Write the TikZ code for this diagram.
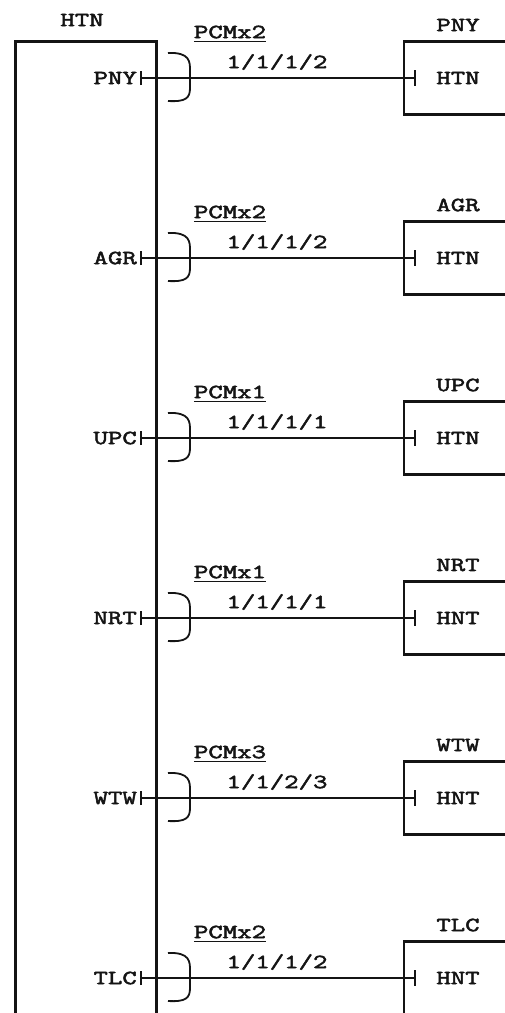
\documentclass[tikz,border=0pt]{standalone}
\usepackage{fontspec}
\newfontfamily\telexfont[FakeStretch=1.4,FakeBold=2.5]{Latin Modern Mono}
\usepackage{tikz}
\usetikzlibrary{arrows.meta}
\definecolor{InkBlack}{RGB}{20,20,20}
\tikzset{
  hbox/.style={draw=InkBlack,line width=2.6pt,anchor=north west,minimum width=141pt,minimum height=1100pt,inner sep=0pt},
  rbox/.style={draw=InkBlack,line width=2.4pt,anchor=west,minimum width=150pt,minimum height=73pt,inner sep=0pt},
  lbl/.style={font=\telexfont\fontsize{20}{20}\selectfont,text=InkBlack,inner sep=0pt},
  link/.style={{Bar[width=14pt]}-{Bar[width=16pt]},InkBlack,line width=1.6pt},
  hook/.style={InkBlack,line width=1.8pt},
  uline/.style={InkBlack,line width=1.3pt},
}
% one office-to-office link: y, office, PCM count, channel code, inner text
\newcommand{\pcmrow}[5]{%
  \begin{scope}[shift={(0,#1)}]
    \node[lbl,anchor=east] (l#2) at (137,0) {#2};
    \coordinate (a#2) at (140,0);
    \coordinate (b#2) at (416,0);
    \node[rbox] (r#2) at (403,0) {};
    \node[lbl] (t#2) at (458,-53) {#2};
    \node[lbl] (i#2) at (458,0) {#5};
    \node[lbl] (p#2) at (230,-46) {PCMx#3};
    \node[lbl] (n#2) at (277,-16) {#4};
    \draw[uline] ([yshift=-3pt]p#2.south west) -- ([yshift=-3pt]p#2.south east);
    \draw[link] (a#2) -- (b#2);
    \draw[hook] (168,-25) .. controls (190,-26) and (190,-16) .. (190,-8) -- (190,10) .. controls (190,20) and (186,24) .. (168,23);
  \end{scope}}

\begin{document}
\begin{tikzpicture}[x=1pt,y=-1pt]
  \useasboundingbox[fill=white] (0,0) rectangle (505,1013);
  \node[hbox] (htn) at (14,40) {};
  \node[lbl] (htnt) at (82,20) {HTN};
  \pcmrow{78}{PNY}{2}{1/1/1/2}{HTN}
  \pcmrow{258}{AGR}{2}{1/1/1/2}{HTN}
  \pcmrow{438}{UPC}{1}{1/1/1/1}{HTN}
  \pcmrow{618}{NRT}{1}{1/1/1/1}{HNT}
  \pcmrow{798}{WTW}{3}{1/1/2/3}{HNT}
  \pcmrow{978}{TLC}{2}{1/1/1/2}{HNT}
\end{tikzpicture}
\end{document}
